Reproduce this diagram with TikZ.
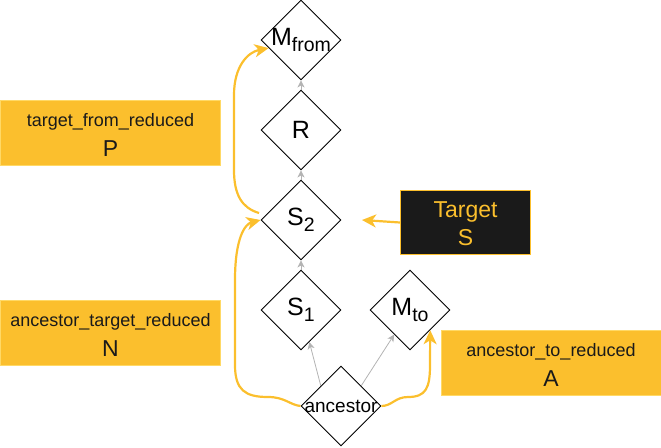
\documentclass[tikz,border=0pt]{standalone}
\usepackage{fontspec}
\setmainfont{Liberation Sans}
\usetikzlibrary{shapes.geometric,arrows.meta,calc}
\definecolor{ofill}{HTML}{FBBF2D}
\definecolor{oline}{HTML}{FBBF2D}
\definecolor{oborder}{HTML}{FFD966}
\definecolor{darkfill}{HTML}{1A1A1A}
\definecolor{gline}{HTML}{B3B3B3}
\newcommand\sbx[1]{\raisebox{-6pt}{\fontsize{19.5}{19.5}\selectfont #1}}
\begin{document}
\begin{tikzpicture}[x=1pt,y=-1pt,
  dia/.style={diamond,draw=black,line width=0.9pt,minimum width=80pt,minimum height=80pt,inner sep=0pt,fill=white},
  dtext/.style={inner sep=0pt,font=\fontsize{25}{25}\selectfont,text=black},
  atext/.style={inner sep=0pt,font=\fontsize{19}{19}\selectfont,text=black},
  obox/.style={rectangle,fill=ofill,draw=oborder,line width=1pt,inner sep=0pt,minimum width=220pt,minimum height=65pt},
  tbox/.style={rectangle,fill=darkfill,draw=ofill,line width=1pt,inner sep=0pt,minimum width=130pt,minimum height=64pt},
  tsmall/.style={anchor=base,inner sep=0pt,font=\fontsize{18}{18}\selectfont,text=darkfill},
  tbig/.style={anchor=base,inner sep=0pt,font=\fontsize{23}{23}\selectfont,text=darkfill},
  ttarget/.style={anchor=base,inner sep=0pt,font=\fontsize{23}{23}\selectfont,text=ofill},
  garrow/.style={draw=gline,line width=0.8pt,-{Stealth[length=7pt,width=7pt,inset=2pt]}},
  oarrow/.style={draw=oline,line width=2.2pt,-{Stealth[length=14pt,width=13pt,inset=4pt]}},
]
\useasboundingbox (0,0) rectangle (661,447);

% diamonds
\node[dia] (mfrom) at (301,40) {};
\node[dia] (r) at (301,130) {};
\node[dia] (s2) at (301,220) {};
\node[dia] (s1) at (301,310) {};
\node[dia] (mto) at (410,310) {};
\node[dia] (anc) at (341,406) {};

\node[dtext] (tmfrom) at (mfrom) {M\sbx{from}};
\node[dtext] (tr) at (r) {R};
\node[dtext] (ts2) at (s2) {S\sbx{2}};
\node[dtext] (ts1) at (s1) {S\sbx{1}};
\node[dtext] (tmto) at (mto) {M\sbx{to}};
\node[atext] (tanc) at (anc) {ancestor};

% gray arrows
\draw[garrow] (r) -- (mfrom);
\draw[garrow] (s2) -- (r);
\draw[garrow] (s1) -- (s2);
\draw[garrow] ($(anc.north)!0.5!(anc.west)$) -- (s1);
\draw[garrow] ($(anc.north)!0.5!(anc.east)$) -- (mto);

% boxes
\node[obox] (pbox) at (110.5,133) {};
\node[tsmall] (pl1) at (110.5,126) {target\_from\_reduced};
\node[tbig] (pl2) at (110.5,156) {P};

\node[obox] (nbox) at (110.5,333) {};
\node[tsmall] (nl1) at (110.5,326) {ancestor\_target\_reduced};
\node[tbig] (nl2) at (110.5,356) {N};

\node[obox] (abox) at (551,363) {};
\node[tsmall] (al1) at (551,356) {ancestor\_to\_reduced};
\node[tbig] (al2) at (551,386) {A};

\node[tbox] (tgt) at (465.5,222.5) {};
\node[ttarget] (tl1) at (465.5,217) {Target};
\node[ttarget] (tl2) at (465.5,245) {S};

% orange connectors
\coordinate (p2s) at (259,213);
\coordinate (mfromtip) at ($(mfrom.west)!0.2!(mfrom.south)$);
\coordinate (mtotip) at ($(mto.east)!0.5!(mto.south)$);
\coordinate (s2tip) at (362,220);

\draw[oarrow] (anc.west) .. controls (290,405) and (285,397) .. (268,397)
  .. controls (245,397) and (235,390) .. (235,365) -- (235,280)
  .. controls (235,238) and (245,224) .. (s2.west);
\draw[oarrow] (p2s) .. controls (242,208) and (234,195) .. (234,170) -- (234,95)
  .. controls (234,66) and (248,52) .. (mfromtip);
\draw[oarrow] (anc.east) .. controls (392,406) and (395,397) .. (408,397)
  .. controls (426,397) and (430,388) .. (430,365) -- (mtotip);
\draw[oarrow] (tgt.west) -- (s2tip);
\end{tikzpicture}
\end{document}
